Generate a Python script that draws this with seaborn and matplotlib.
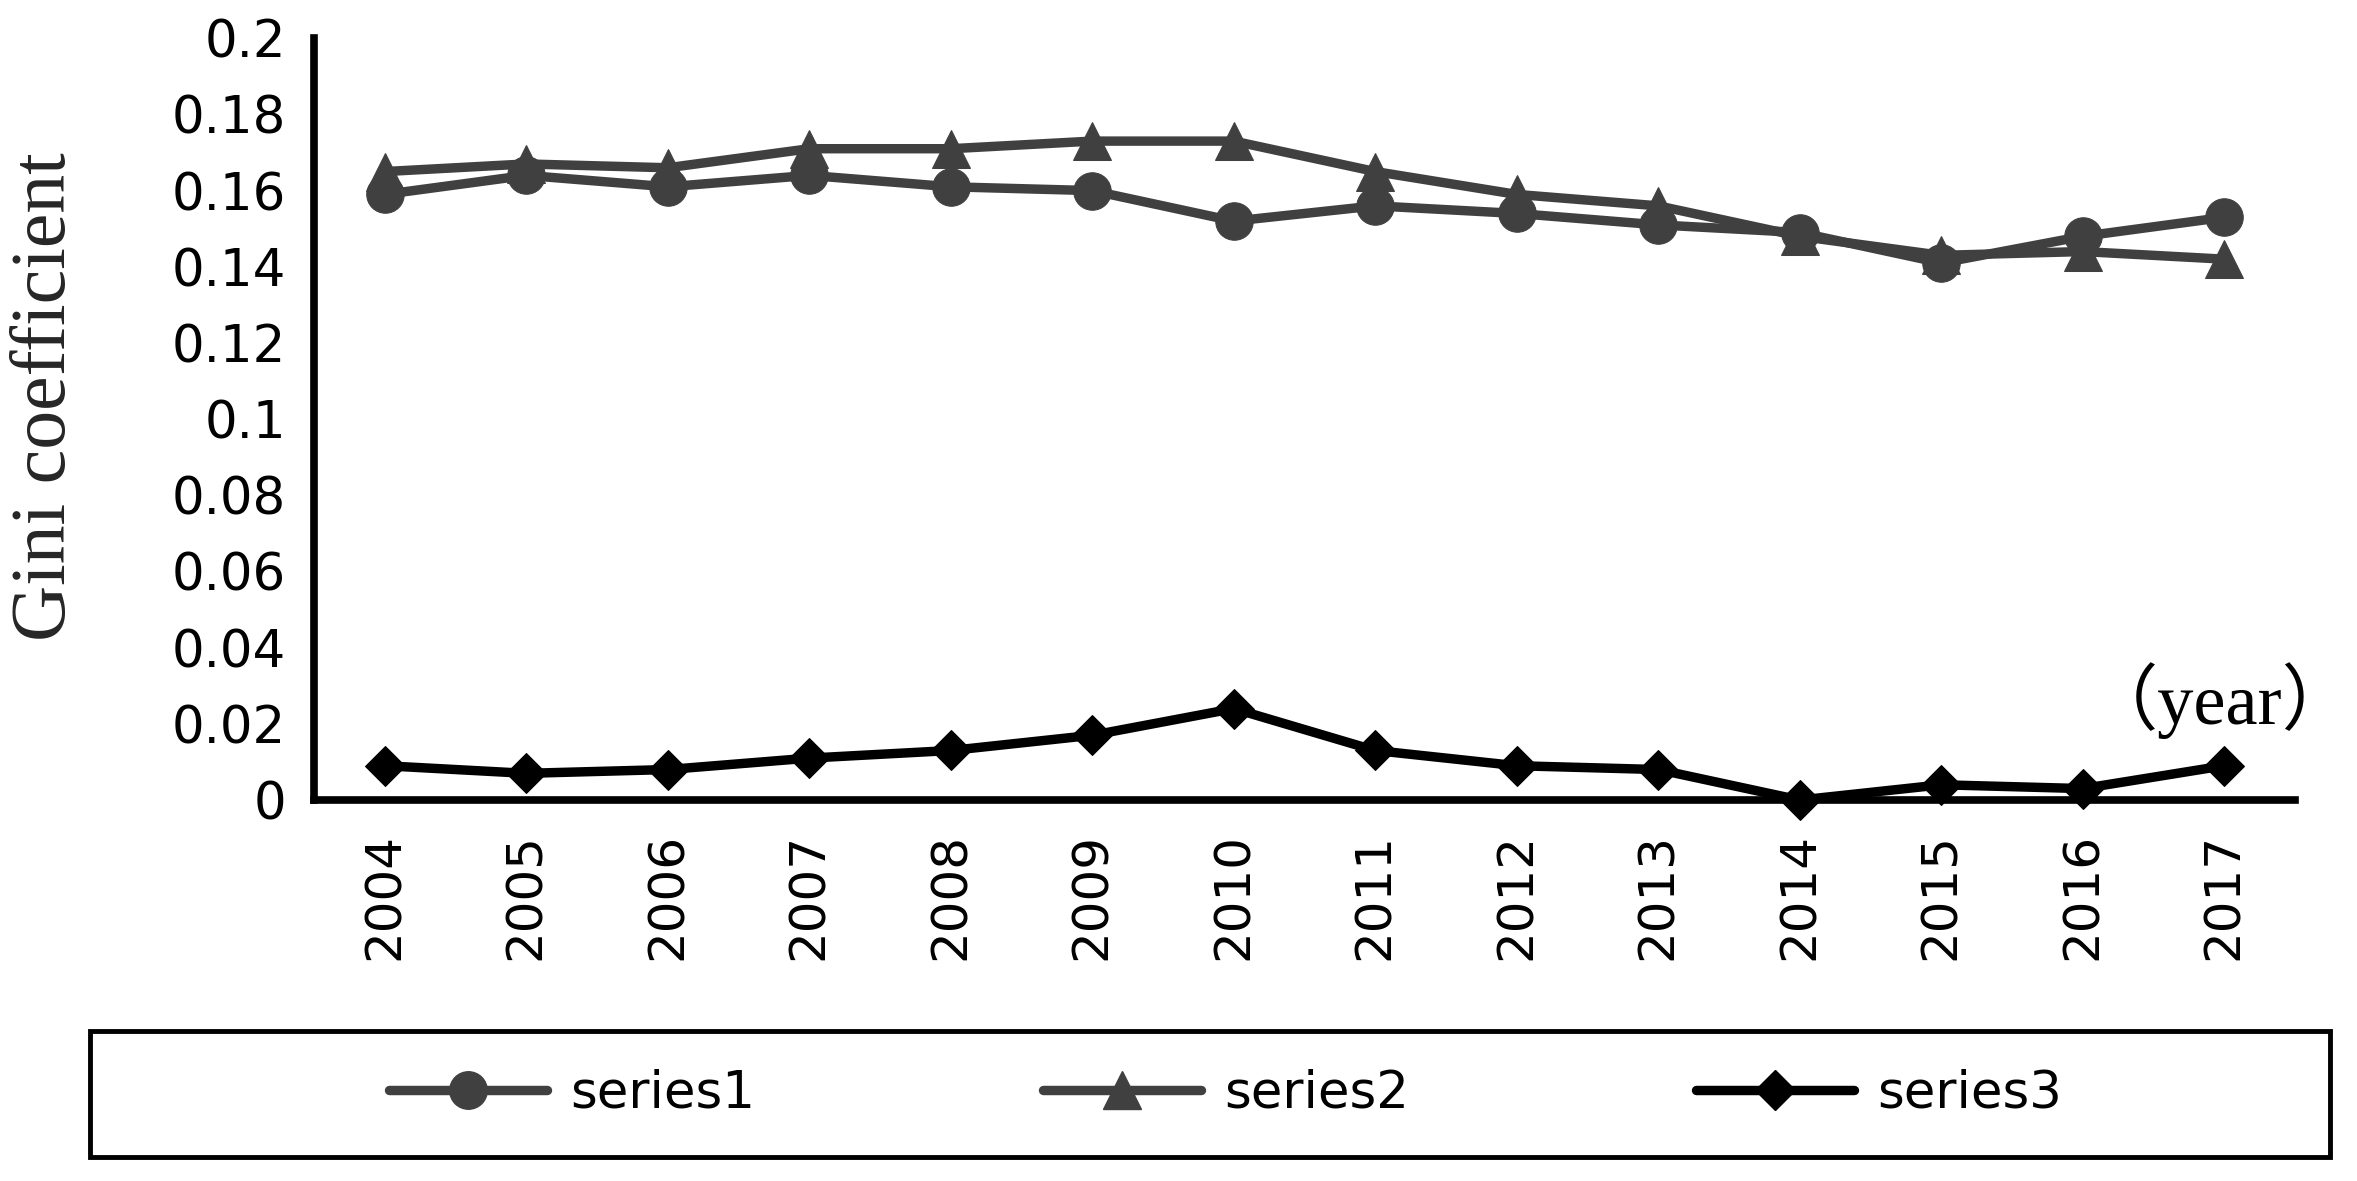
import numpy as np
import seaborn as sns
import matplotlib.pyplot as plt
from matplotlib.patches import Rectangle
from matplotlib.lines import Line2D

# values
years = ["2004", "2005", "2006", "2007", "2008", "2009", "2010",
         "2011", "2012", "2013", "2014", "2015", "2016", "2017"]
series1 = [0.159, 0.164, 0.161, 0.164, 0.161, 0.160, 0.152,
           0.156, 0.154, 0.151, 0.149, 0.141, 0.148, 0.153]
series2 = [0.165, 0.167, 0.166, 0.171, 0.171, 0.173, 0.173,
           0.165, 0.159, 0.156, 0.148, 0.143, 0.144, 0.142]
series3 = [0.009, 0.007, 0.008, 0.011, 0.013, 0.017, 0.024,
           0.013, 0.009, 0.008, 0.000, 0.004, 0.003, 0.009]
series_names = ["series1", "series2", "series3"]

sns.set_style("white")
plt.rcParams["font.family"] = ["DejaVu Sans"]
plt.rcParams["text.color"] = "black"
plt.rcParams["xtick.color"] = "black"
plt.rcParams["ytick.color"] = "black"

fig = plt.figure(figsize=(23.57, 11.81), dpi=100)
ax = fig.add_axes([0.1332, 0.3226, 0.8405, 0.645])

pos = np.arange(len(years))
looks = [("o", "#404040", 27), ("^", "#404040", 28), ("D", "black", 20)]
handles = []
for name, vals, (mk, col, ms) in zip(series_names, [series1, series2, series3], looks):
    sns.lineplot(x=pos, y=vals, ax=ax, color=col, marker=mk, markersize=ms,
                 markeredgecolor=col, linewidth=6.8, legend=False, clip_on=False)
    handles.append(Line2D([], [], color=col, marker=mk, markersize=ms,
                          markeredgecolor=col, linewidth=6.8))

# axes styling (Excel look)
ax.set_xlim(-0.5, 13.5)
ax.set_ylim(0, 0.2)
yt = np.round(np.arange(0, 0.201, 0.02), 2)
ax.set_yticks(yt)
ax.set_yticklabels([f"{v:g}" for v in yt])
ax.set_xticks(pos)
ax.set_xticklabels(years, rotation=90)
ax.set_xticks(np.arange(-0.5, 14, 1), minor=True)
ax.tick_params(axis="x", which="major", length=0, pad=24, labelsize=36)
ax.tick_params(axis="x", which="minor", direction="in", length=11, width=5.5)
ax.tick_params(axis="y", direction="in", length=15, width=5.5, pad=20, labelsize=37)
sns.despine(ax=ax)
for s in ["left", "bottom"]:
    ax.spines[s].set_linewidth(5.5)
    ax.spines[s].set_color("black")

ax.set_ylabel("Gini coefficient", family="Liberation Serif", fontsize=56)
ax.yaxis.set_label_coords(-0.117, 0.53)
ax.text(1.03, 0.131, "（year）", transform=ax.transAxes, ha="right", va="center",
        fontsize=52, family=["Liberation Serif", "Noto Sans CJK SC"])

# legend in a wide box below the chart
fig.legend(handles, series_names, loc="center", bbox_to_anchor=(0.52, 0.074),
           ncol=3, frameon=False, fontsize=37, handlelength=3.07,
           handletextpad=0.45, columnspacing=5.6)
fig.add_artist(Rectangle((0.0382, 0.0203), 0.9504, 0.1067, transform=fig.transFigure,
                         fill=False, lw=3.5, ec="black"))

fig.savefig("out.png", dpi=100)
